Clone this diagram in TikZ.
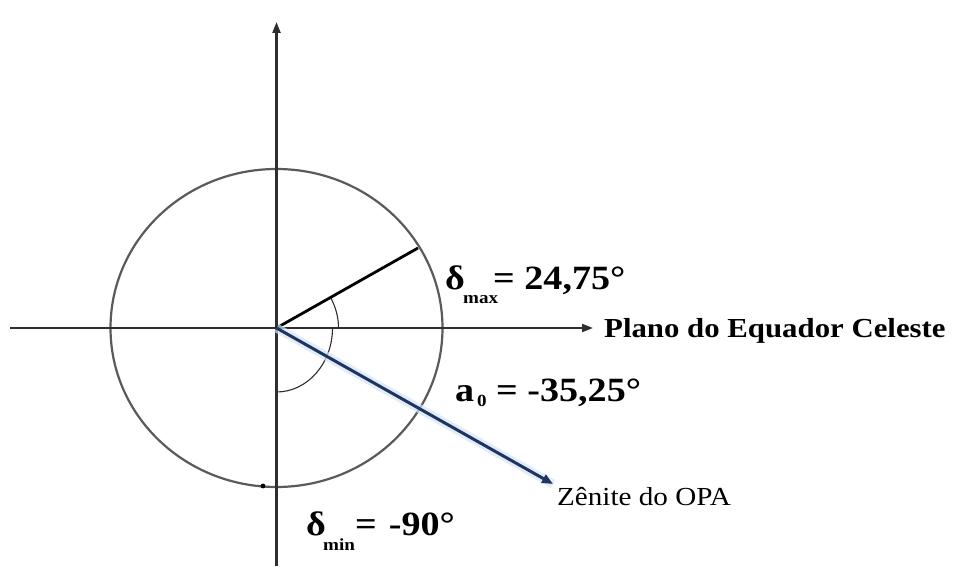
\documentclass[tikz,border=0pt]{standalone}
\usepackage{fontspec}
\setmainfont[FakeStretch=1.12]{Liberation Serif}
\usetikzlibrary{arrows.meta,calc}
\definecolor{axisgray}{HTML}{2E2E2E}
\definecolor{circgray}{HTML}{5A5A5A}
\definecolor{navy}{HTML}{1E3560}
\definecolor{glow}{HTML}{D6E4F6}
\tikzset{
  axis/.style={draw=axisgray,line width=2.2pt,-{Triangle[length=11pt,width=8pt]}},
  big/.style={font=\fontsize{34}{36}\selectfont\bfseries,inner sep=0pt},
  sub/.style={font=\fontsize{17}{19}\selectfont\bfseries,inner sep=0pt},
  lab/.style={font=\fontsize{27.5}{29}\selectfont\bfseries,inner sep=0pt},
  labn/.style={font=\fontsize{26}{28}\selectfont,inner sep=0pt},
  thinarc/.style={draw=axisgray,line width=1.1pt}
}
\begin{document}
\begin{tikzpicture}[x=1pt,y=-1pt]
\useasboundingbox[fill=white] (0,0) rectangle (954,569);
\coordinate (O) at (276.5,328);
\coordinate (xl) at (10,328);
\coordinate (xr) at (593,328);
\coordinate (yb) at (276.5,566);
\coordinate (yt) at (276.5,22);
\coordinate (R) at (418,248);
\coordinate (Z) at (553,484);
% circle
\draw[draw=circgray,line width=2.2pt] (O) ellipse[x radius=166,y radius=159];
% axes
\draw[axis] (xl) -- (xr);
\draw[axis] (yb) -- (yt);
% angle arcs
\draw[thinarc] ($(O)+(-29.5:62)$) arc[start angle=-29.5,end angle=0,radius=62];
\draw[thinarc] ($(O)+(56,0)$) arc[start angle=0,end angle=90,x radius=56,y radius=64];
% radius line
\draw[black,line width=2.8pt] (O) -- (R);
% blue arrow
\draw[glow,line width=9pt,opacity=0.7] (O) -- (Z);
\draw[navy,line width=3pt,-{Triangle[length=11pt,width=9pt]}] (O) -- (Z);
% dot
\fill[black] (263,486) circle[radius=2.4];
% labels
\node[big,anchor=base west] (dmax) at (445,290) {δ};
\node[sub,anchor=base west] (dmaxs) at (463,304) {max};
\node[big,anchor=base west] (dmaxv) at (493,290) {= 24,75°};
\node[lab,anchor=base west] (plano) at (604,338) {Plano do Equador Celeste};
\node[big,anchor=base west] (a0) at (455,402) {a};
\node[sub,anchor=base west] (a0s) at (477,407) {0};
\node[big,anchor=base west] (a0v) at (496,402) {= -35,25°};
\node[labn,anchor=base west] (zen) at (557,505) {Zênite do OPA};
\node[big,anchor=base west] (dmin) at (306,535) {δ};
\node[sub,anchor=base west] (dmins) at (323,550) {min};
\node[big,anchor=base west] (dminv) at (355,535) {=\hspace{12pt}-90°};
\end{tikzpicture}
\end{document}
